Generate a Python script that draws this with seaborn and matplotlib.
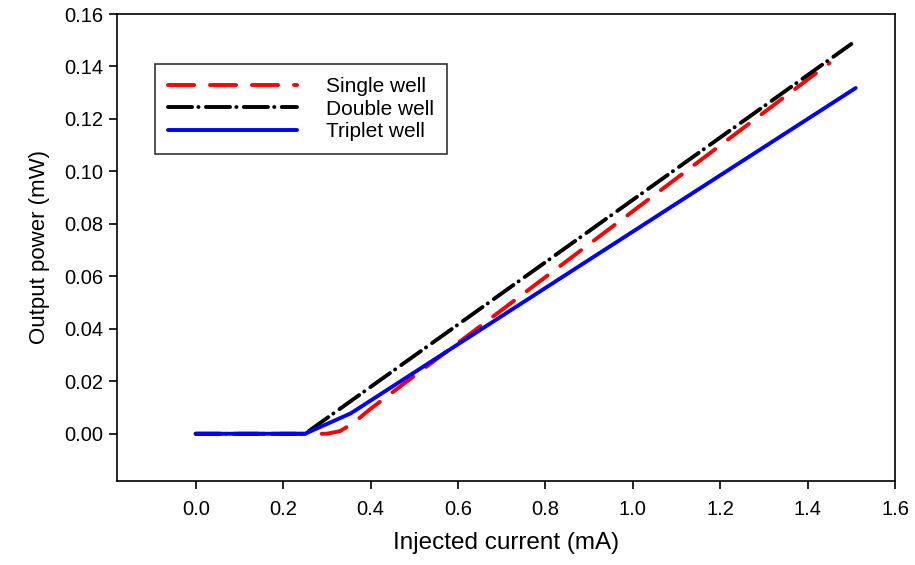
import pandas as pd
import matplotlib
matplotlib.use('Agg')
import matplotlib.pyplot as plt
import seaborn as sns

# values
single_x = [0.0, 0.10, 0.20, 0.30, 0.33, 0.36, 0.40, 1.45]
single_y = [0.0, 0.0, 0.0, 0.0, 0.001, 0.004, 0.0095, 0.1413]

double_x = [0.0, 0.10, 0.20, 0.25, 1.50]
double_y = [0.0, 0.0, 0.0, 0.0, 0.1486]

triplet_x = [0.0, 0.10, 0.20, 0.25, 0.355, 1.51]
triplet_y = [0.0, 0.0, 0.0, 0.0, 0.0078, 0.1318]

x_ticks = [0.0, 0.2, 0.4, 0.6, 0.8, 1.0, 1.2, 1.4, 1.6]
y_ticks = [0.00, 0.02, 0.04, 0.06, 0.08, 0.10, 0.12, 0.14, 0.16]

sns.set_style('ticks', rc={'text.color': 'black', 'axes.labelcolor': 'black',
                           'xtick.color': 'black', 'ytick.color': 'black',
                           'axes.edgecolor': 'black'})
plt.rcParams['font.family'] = ['Liberation Sans', 'DejaVu Sans']

fig = plt.figure(figsize=(9.15, 5.65), dpi=100)
ax = fig.add_axes([0.1279, 0.1487, 0.8503, 0.8265])

lw = 2.8
sns.lineplot(x=single_x, y=single_y, ax=ax, color='#ff0000', lw=lw,
             linestyle=(0, (6.7, 4.1)), label='Single well', estimator=None, sort=False)
sns.lineplot(x=double_x, y=double_y, ax=ax, color='black', lw=lw,
             linestyle=(0, (6.2, 1.6, 0.05, 1.9)), label='Double well', estimator=None, sort=False)
sns.lineplot(x=triplet_x, y=triplet_y, ax=ax, color='#0000ff', lw=lw,
             linestyle='-', label='Triplet well', estimator=None, sort=False)

for ln in ax.get_lines():
    ln.set_dash_capstyle('round')
    ln.set_solid_capstyle('round')

ax.set_xlim(-0.18, 1.6)
ax.set_ylim(-0.018, 0.16)
ax.set_xticks(x_ticks)
ax.set_yticks(y_ticks)
ax.set_xticklabels([f'{v:.1f}' for v in x_ticks])
ax.set_yticklabels([f'{v:.2f}' for v in y_ticks])
ax.tick_params(axis='both', direction='out', length=6, width=1.2, labelsize=14.5)
ax.tick_params(axis='x', pad=8)
ax.tick_params(axis='y', pad=4)
ax.tick_params(top=False, right=False)
for s in ax.spines.values():
    s.set_visible(True)
    s.set_linewidth(1.2)
    s.set_color('black')

ax.set_xlabel('Injected current (mA)', fontsize=17.5, labelpad=9)
ax.set_ylabel('Output power (mW)', fontsize=16, labelpad=10)

leg = ax.legend(loc='upper left', bbox_to_anchor=(0.049, 0.893), fontsize=15,
                handlelength=6.2, handletextpad=1.4, labelspacing=0.18,
                frameon=True, fancybox=False, borderpad=0.62, borderaxespad=0)
leg.get_frame().set_edgecolor('black')
leg.get_frame().set_linewidth(1.2)

plt.savefig('out.png', dpi=100)
